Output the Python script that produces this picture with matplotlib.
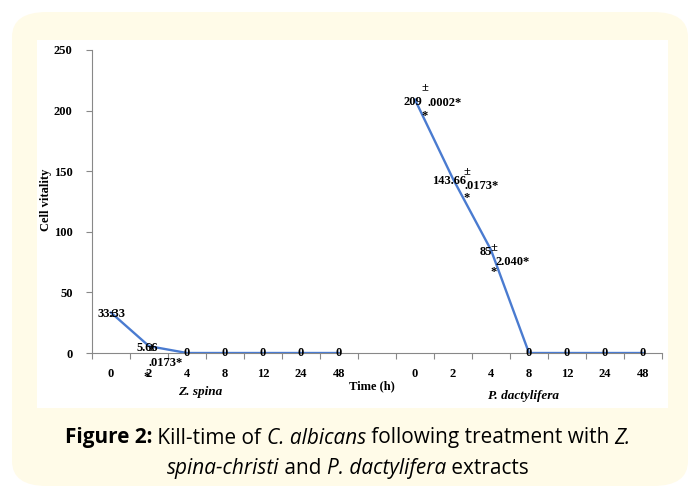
import numpy as np
import matplotlib.pyplot as plt
from matplotlib.patches import FancyBboxPatch, Rectangle

# ---- data ----
times = ['0', '2', '4', '8', '12', '24', '48']
z_spina = [33.33, 5.66, 0, 0, 0, 0, 0]
p_dact = [209, 143.66, 85, 0, 0, 0, 0]
y_ticks = [0, 50, 100, 150, 200, 250]

W, H = 696, 498
fig = plt.figure(figsize=(W / 100, H / 100), dpi=100)
fig.patch.set_facecolor('white')

def px(x, y):
    return x / W, 1 - y / H

# yellow rounded card and white panel
card = FancyBboxPatch(px(12, 486), (688 - 12) / W, (486 - 12) / H,
                      boxstyle='round,pad=0,rounding_size=0.05',
                      transform=fig.transFigure, facecolor='#FFFBE8',
                      edgecolor='none', zorder=0)
fig.patches.append(card)
fig.patches.append(Rectangle(px(37, 408), (668 - 37) / W, (408 - 40) / H,
                             transform=fig.transFigure, facecolor='white',
                             edgecolor='none', zorder=1))

ax = fig.add_axes([92 / W, 1 - 353 / H, (662 - 92) / W, (353 - 50) / H])
ax.set_facecolor('none')
ax.set_zorder(2)

serif = 'Liberation Serif'
blue = '#4A7BD0'
fs = 9

cats = times + [''] + times
vals = np.array(z_spina + [np.nan] + p_dact, dtype=float)
xs = np.arange(len(cats))
ax.plot(xs, vals, color=blue, lw=1.7, zorder=3)

ax.set_xlim(-0.5, len(cats) - 0.5)
ax.set_ylim(0, 250)
ax.set_yticks(y_ticks)
ax.set_yticklabels([str(v) for v in y_ticks], fontfamily=serif,
                   fontweight='bold', fontsize=fs)
ax.set_xticks(xs)
ax.set_xticklabels(cats, fontfamily=serif, fontweight='bold', fontsize=fs)
ax.set_xticks(np.arange(-0.5, len(cats)), minor=True)
ax.tick_params(axis='x', which='major', length=0, pad=11)
ax.tick_params(axis='x', which='minor', length=4, direction='out',
               color='#888888', width=0.8)
ax.tick_params(axis='y', length=4, direction='out', color='#888888',
               width=0.8, pad=10)
for s in ['top', 'right']:
    ax.spines[s].set_visible(False)
for s in ['left', 'bottom']:
    ax.spines[s].set_color('#888888')
    ax.spines[s].set_linewidth(0.8)

def lab(i, txt, dx, dy):
    ax.annotate(txt, (xs[i], vals[i]), xytext=(dx, dy),
                textcoords='offset pixels', ha='center', va='center',
                fontfamily=serif, fontweight='bold', fontsize=fs, zorder=4,
                annotation_clip=False)

# data labels
lab(0, '33.33', 0, -1)
lab(0, '\u00b1', 1, -1)
lab(1, '5.66', -2, -2)
lab(1, '\u00b1', 2, -2)
lab(1, '.0173*', 17, -17)
lab(1, '*', -2, -31)
for i, v in enumerate(vals):
    if v == 0:
        lab(i, '0', 0, 0)
lab(8, '\u00b1', 10, 12)
lab(8, '209', -2, -2)
lab(8, '.0002*', 30, -3)
lab(8, '*', 10, -16)
lab(9, '\u00b1', 14, 7)
lab(9, '143.66', -4, -2)
lab(9, '.0173*', 29, -7)
lab(9, '*', 14, -19)
lab(10, '85', -5, -2)
lab(10, '\u00b1', 3, 2)
lab(10, '2.040*', 22, -12)
lab(10, '*', 3, -22)

fig.text(*px(46, 200), 'Cell vitality', rotation=90, ha='center',
         va='center', fontfamily=serif, fontweight='bold', fontsize=fs)
fig.text(*px(372, 386), 'Time (h)', ha='center', va='center',
         fontfamily=serif, fontweight='bold', fontsize=fs)
fig.text(*px(200, 392), 'Z. spina', ha='center', va='center',
         fontfamily=serif, fontweight='bold', fontstyle='italic', fontsize=9.5)
fig.text(*px(524, 396), 'P. dactylifera', ha='center', va='center',
         fontfamily=serif, fontweight='bold', fontstyle='italic', fontsize=9.5)

# caption with mixed styles
cap = 'Open Sans'
line1 = [('Figure 2:', 'bold', 'normal'), (' Kill-time of ', 'normal', 'normal'),
         ('C. albicans', 'normal', 'italic'),
         (' following treatment with ', 'normal', 'normal'),
         ('Z.', 'normal', 'italic')]
line2 = [('spina-christi', 'normal', 'italic'), (' and ', 'normal', 'normal'),
         ('P. dactylifera', 'normal', 'italic'), (' extracts', 'normal', 'normal')]

renderer = fig.canvas.get_renderer()

def make(parts, size):
    out = []
    for t, w, st in parts:
        tt = fig.text(0, 0, t.replace(' ', '\u00a0'), fontfamily=cap,
                      fontweight=w, fontstyle=st, fontsize=size,
                      va='center', ha='left')
        out.append(tt)
    return out

def width(texts):
    return sum(t.get_window_extent(renderer).width for t in texts)

# pick a size so that the first line spans about 565 px as in the original
probe = make(line1, 12)
size = 12 * 565 / width(probe)
for t in probe:
    t.remove()

def rich(parts, y):
    texts = make(parts, size)
    x = (W - width(texts)) / 2
    for tt in texts:
        tt.set_position(px(x, y))
        x += tt.get_window_extent(renderer).width

rich(line1, 438)
rich(line2, 468)

fig.savefig('out.png', dpi=100, facecolor=fig.get_facecolor())
